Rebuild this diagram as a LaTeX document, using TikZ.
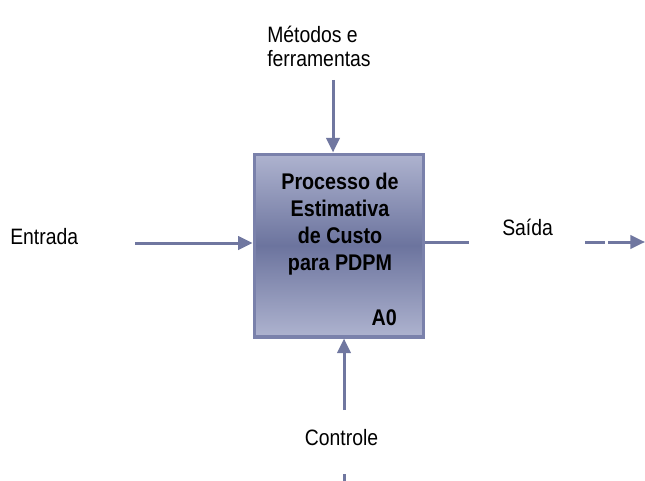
\documentclass[tikz,border=0pt]{standalone}
\usepackage{fontspec}
\setmainfont{Liberation Sans}
\newfontfamily\idefFont[FakeStretch=0.87]{Liberation Sans}
\usepackage{xcolor}
\definecolor{idefLine}{RGB}{112,119,160}
\definecolor{idefBorder}{RGB}{122,129,171}
\definecolor{idefLight}{RGB}{174,179,207}
\definecolor{idefDark}{RGB}{108,116,158}
\usetikzlibrary{arrows.meta, positioning}
\tikzstyle{block} = [draw=idefBorder, line width=2.5pt, rectangle, minimum width=127pt, minimum height=137pt, top color=idefLight, bottom color=idefLight, middle color=idefDark]
\tikzstyle{boxtext} = [font=\idefFont\fontsize{17}{20.2}\selectfont\bfseries, inner sep=0pt, align=center]
\tikzstyle{flowtext} = [font=\idefFont\fontsize{16.7}{18.6}\selectfont, inner sep=0pt]
\tikzstyle{flow} = [draw=idefLine, line width=2.25pt]
\tikzstyle{point} = [coordinate]

\begin{document}
\begin{tikzpicture}[x=0.75pt, y=-0.75pt, >={Triangle[length=11pt, width=10pt]}]
        \useasboundingbox (0,0) rectangle (645,481);
        % We start by placing the activity box
        \node [block] (process) at (339,245.5) {};
        \node [boxtext] (processName) at (340,224) {Processo de\\Estimativa\\de Custo\\para PDPM};
        \node [boxtext, anchor=base east] (processId) at (397,325) {A0};

        % then the texts of the four arrows
        \node [flowtext, anchor=base west, align=left] (methodsText) at (267,67) {Métodos e\\ferramentas};
        \node [flowtext, anchor=base west] (inputText) at (10,244) {Entrada};
        \node [flowtext, anchor=base west] (outputText) at (502,235) {Saída};
        \node [flowtext, anchor=base] (controlText) at (341.5,445) {Controle};

        \node [point] (methodsTail) at (333,80) {};
        \node [point] (inputTail) at (135,243) {};
        \node [point] (outputBreak) at (469,242) {};
        \node [point] (outputTail) at (585,242) {};
        \node [point] (outputTip) at (645,242) {};
        \node [point] (controlIn) at (344,481) {};
        \node [point] (controlBreak) at (344,474) {};
        \node [point] (controlTail) at (344,410) {};

        % Once the nodes are placed, connecting them is easy.
        \draw [flow,->] (methodsTail) -- (methodsTail |- process.north);
        \draw [flow,->] (inputTail) -- (inputTail -| process.west);
        \draw [flow] (outputBreak -| process.east) -- (outputBreak);
        \draw [flow,->, dash pattern=on 15pt off 2.5pt on 100pt] (outputTail) -- (outputTip);
        \draw [flow] (controlIn) -- (controlBreak);
        \draw [flow,->] (controlTail) -- (controlTail |- process.south);
    \end{tikzpicture}
\end{document}
